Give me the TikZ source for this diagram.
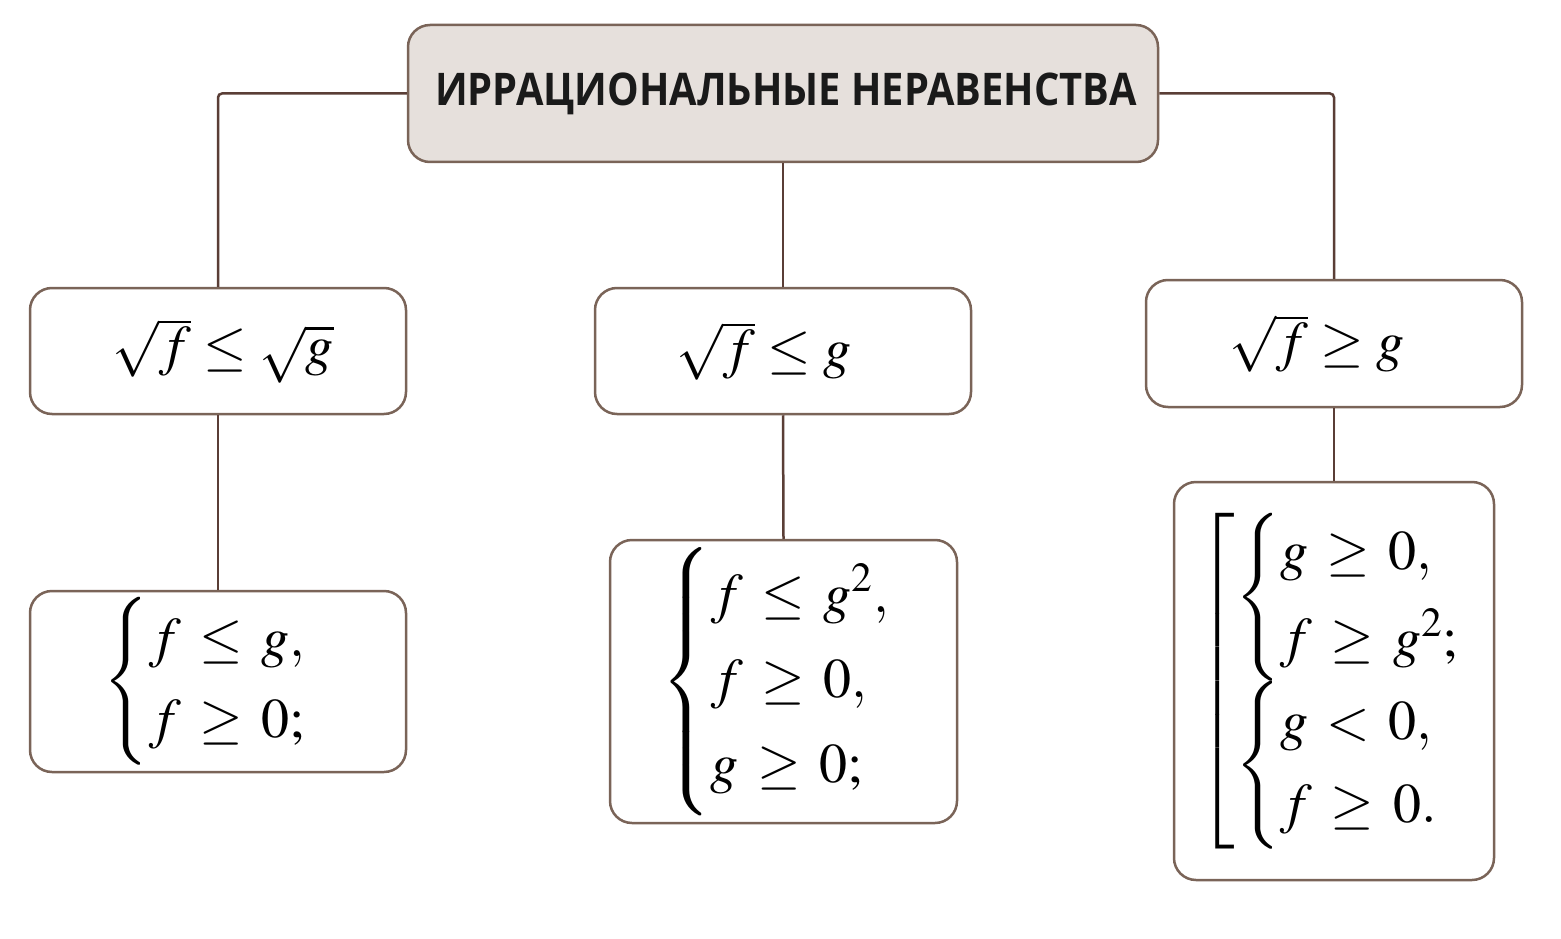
\documentclass[tikz,border=0pt]{standalone}
\usepackage{amsmath}
\usepackage{mathptmx}
\usepackage[no-math]{fontspec}
\newfontfamily\titlefont{Open Sans}[FakeStretch=0.885]
\definecolor{boxc}{HTML}{7A6458}
\definecolor{linec}{HTML}{5A3E36}
\definecolor{titlefill}{HTML}{E6E0DC}
\definecolor{titletext}{HTML}{1A1A1A}
\begin{document}
\begin{tikzpicture}[x=1pt,y=-1pt,
  box/.style={draw=boxc, line width=2.5pt, rounded corners=22pt, fill=white, inner sep=0pt, align=center,
    font=\fontsize{56}{66}\selectfont},
  conn/.style={draw=linec, line width=2.5pt, rounded corners=4pt}]
\useasboundingbox (0,0) rectangle (1561,939);
\fill[white] (0,0) rectangle (1561,939);
\node[box, fill=titlefill, minimum width=750pt, minimum height=137pt, text=titletext,
  font=\titlefont\bfseries\fontsize{45}{54}\selectfont] (title) at (783,93.5) {\hspace*{6pt}ИРРАЦИОНАЛЬНЫЕ НЕРАВЕНСТВА};
\node[box, minimum width=376pt, minimum height=126pt] (l1) at (218,351) {\hspace*{10pt}$\sqrt{f}\leq\sqrt{g}$};
\node[box, minimum width=376pt, minimum height=126pt] (m1) at (783,351) {\raisebox{-6pt}{$\sqrt{f}\leq g$}\hspace*{38pt}};
\node[box, minimum width=376pt, minimum height=127pt] (r1) at (1334,343.5) {\raisebox{4pt}{$\sqrt{f}\geq g$}\hspace*{34pt}};
\node[box, minimum width=376pt, minimum height=181pt] (l2) at (218,681.5) {\hspace*{30pt}\thickmuskip=6mu$\begin{cases} f\leq g,\\[2pt] f\geq 0;\end{cases}$};
\node[box, minimum width=347pt, minimum height=283pt] (m2) at (783.5,681.5) {\hspace*{40pt}\thickmuskip=6mu$\begin{cases} f\leq g^2,\\[6pt] f\geq 0,\\[6pt] g\geq 0;\end{cases}$};
\node[box, minimum width=320pt, minimum height=398pt] (r2) at (1334,681) {\makebox[0pt][c]{\hspace*{46pt}\thickmuskip=6mu\raisebox{6pt}{$\left[\begin{array}{@{}l@{}}\begin{cases} g\geq 0,\\[8pt] f\geq g^2;\end{cases}\\[10pt] \begin{cases} g<0,\\[4pt] f\geq 0.\end{cases}\end{array}\right.$}}};
\draw[conn] (title.west) -| (l1.north);
\draw[conn] (title.east) -| (r1.north);
\draw[conn] (title.south) -- (m1.north);
\draw[conn] (l1.south) -- (l2.north);
\draw[conn] (m1.south) -- (m2.north);
\draw[conn] (r1.south) -- (r2.north);
\end{tikzpicture}
\end{document}
